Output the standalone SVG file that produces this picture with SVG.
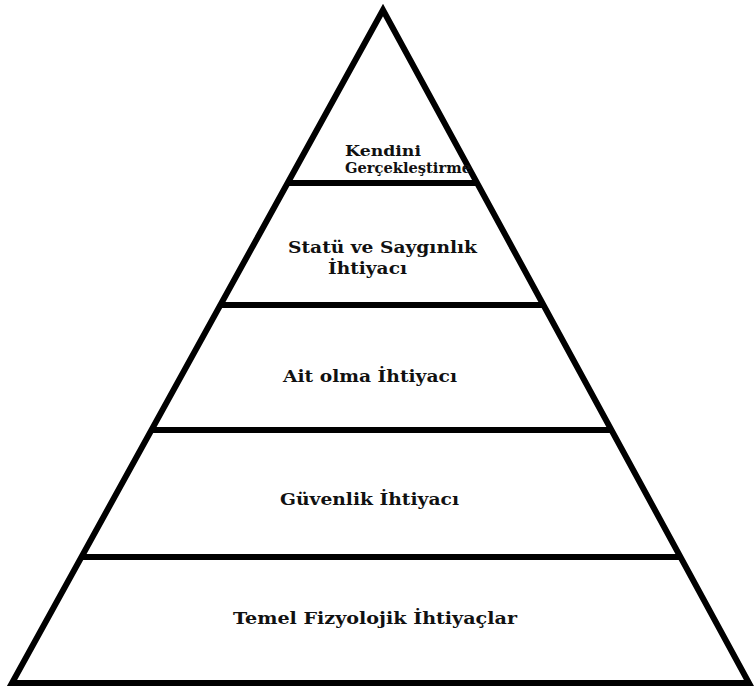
<svg xmlns="http://www.w3.org/2000/svg" width="754" height="693" viewBox="0 0 754 693">
<style>
.edge{stroke:#000;stroke-width:6;fill:none;stroke-linejoin:miter;stroke-linecap:butt}
.lbl{font-family:"DejaVu Serif",serif;font-weight:bold;font-size:17px;fill:#111}
.sm{font-size:14px}
</style>
<rect width="754" height="693" fill="#fff"/>
<g id="connectors">
<polygon class="edge" points="383,10 12,683 749,683"/>
<line class="edge" x1="287" y1="183" x2="477" y2="183"/>
<line class="edge" x1="220" y1="305" x2="543" y2="305"/>
<line class="edge" x1="151" y1="430" x2="611" y2="430"/>
<line class="edge" x1="81" y1="557" x2="680" y2="557"/>
</g>
<g id="n1"><text class="lbl sm" x="345" y="156" textLength="76" lengthAdjust="spacingAndGlyphs">Kendini</text><text class="lbl sm" x="345" y="172.5" textLength="126" lengthAdjust="spacingAndGlyphs">Gerçekleştirme</text></g>
<g id="n2"><text class="lbl" x="288" y="253" textLength="189" lengthAdjust="spacingAndGlyphs">Statü ve Saygınlık</text><text class="lbl" x="328" y="274" textLength="79" lengthAdjust="spacingAndGlyphs">İhtiyacı</text></g>
<g id="n3"><text class="lbl" x="283" y="382" textLength="174" lengthAdjust="spacingAndGlyphs">Ait olma İhtiyacı</text></g>
<g id="n4"><text class="lbl" x="280" y="505" textLength="179" lengthAdjust="spacingAndGlyphs">Güvenlik İhtiyacı</text></g>
<g id="n5"><text class="lbl" x="233" y="624" textLength="284" lengthAdjust="spacingAndGlyphs">Temel Fizyolojik İhtiyaçlar</text></g>
</svg>
